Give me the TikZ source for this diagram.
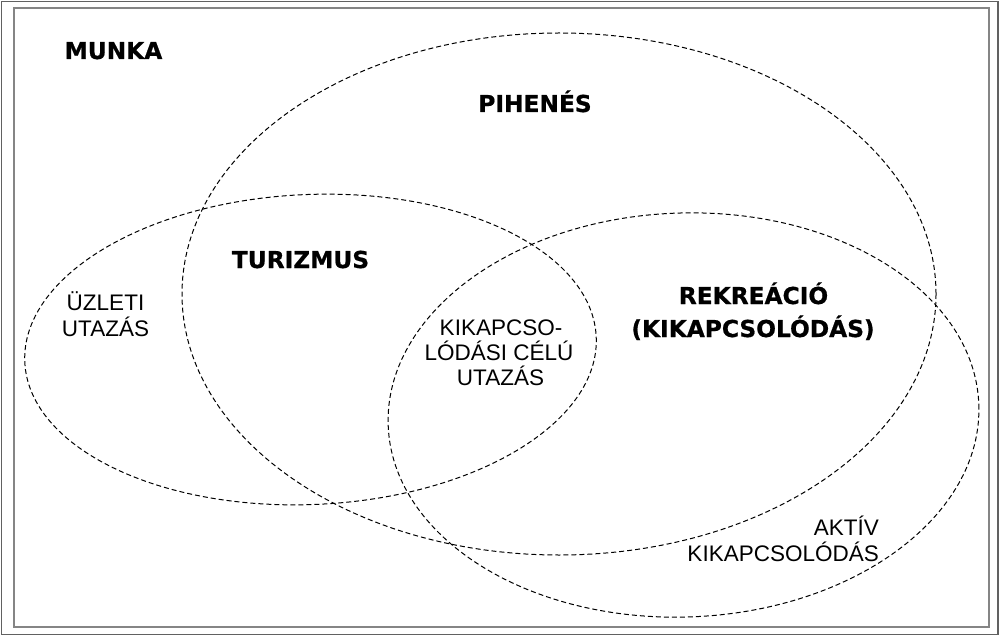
\documentclass[tikz,border=0pt]{standalone}
\usepackage{fontspec}
\setmainfont{Liberation Sans}
\newfontfamily\heavy[FakeBold=0.7]{DejaVu Sans Bold}
\begin{document}
\begin{tikzpicture}[x=1pt,y=-1pt,
  frameout/.style={draw=black!62, line width=1.6pt},
  framein/.style={draw=black!48, line width=2pt},
  setline/.style={draw=black, line width=1pt, dash pattern=on 5pt off 3pt},
  heading/.style={font=\heavy\fontsize{23.3}{28}\selectfont, inner sep=0pt, anchor=base},
  plain/.style={font=\fontsize{22.5}{26}\selectfont, inner sep=0pt, anchor=base},
  plainr/.style={plain, anchor=base east}]
\useasboundingbox (0,0) rectangle (1000,636);
\fill[white] (0,0) rectangle (1000,636);
\draw[frameout] (1.5,1.5) rectangle (998,634.5);
\draw[framein] (14,8.5) rectangle (989,627);
% sets
\draw[setline] (559,294) ellipse [x radius=377, y radius=261];
\draw[setline, rotate around={2.5:(310.5,349.5)}] (310.5,349.5) ellipse [x radius=286, y radius=155];
\draw[setline, rotate around={2:(683.5,415)}] (683.5,415) ellipse [x radius=295.5, y radius=202];
% labels
\node[heading] (munka) at (113.5,59) {MUNKA};
\node[heading] (pihenes) at (535,112) {PIHENÉS};
\node[heading] (turizmus) at (300.5,268) {TURIZMUS};
\node[heading] (rekr1) at (753.5,304) {REKREÁCIÓ};
\node[heading] (rekr2) at (753,337) {(KIKAPCSOLÓDÁS)};
\node[plain] (uz1) at (105.5,310) {ÜZLETI};
\node[plain] (uz2) at (105.5,336) {UTAZÁS};
\node[plain] (kk1) at (501,335) {KIKAPCSO-};
\node[plain] (kk2) at (499,360) {LÓDÁSI CÉLÚ};
\node[plain] (kk3) at (500.5,385) {UTAZÁS};
\node[plainr] (ak1) at (879,535) {AKTÍV};
\node[plainr] (ak2) at (879,561) {KIKAPCSOLÓDÁS};
\end{tikzpicture}
\end{document}
